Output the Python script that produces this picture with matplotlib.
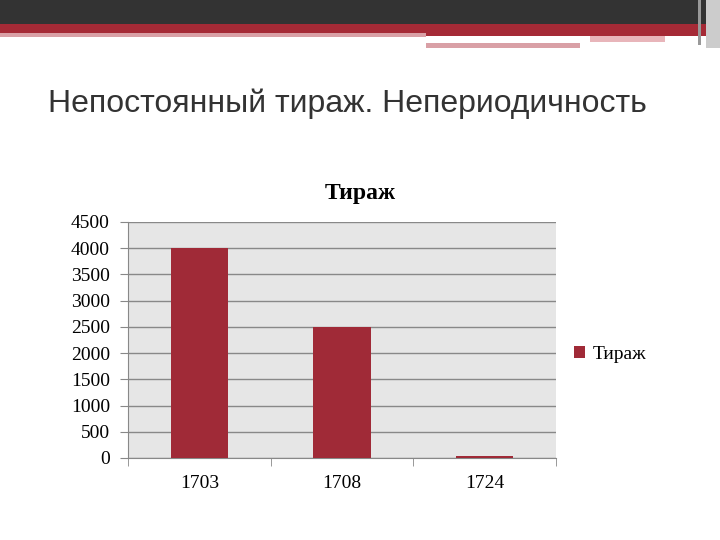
import matplotlib.pyplot as plt
from matplotlib.patches import Rectangle

# данные
years = ['1703', '1708', '1724']
tirazh = [4000, 2500, 30]
y_ticks = [0, 500, 1000, 1500, 2000, 2500, 3000, 3500, 4000, 4500]

W, H = 720, 540
bar_color = '#a02a37'

fig = plt.figure(figsize=(7.2, 5.4), dpi=100)
fig.patch.set_facecolor('white')

def px_rect(x, y, w, h, color):
    # прямоугольник в пикселях (y от верхнего края)
    fig.patches.append(Rectangle((x / W, 1 - (y + h) / H), w / W, h / H,
                                 transform=fig.transFigure, color=color, lw=0))

# декоративная полоса сверху
px_rect(0, 0, 720, 24, '#333333')
px_rect(0, 24, 720, 9, '#a52a36')
px_rect(0, 33, 426, 4, '#d9a0a6')
px_rect(426, 33, 280, 3, '#a52a36')
px_rect(426, 43, 154, 5, '#d9a0a6')
px_rect(590, 36, 75, 6, '#e8b5ba')
px_rect(698, 0, 3, 45, '#999999')
px_rect(706, 0, 14, 48, '#cccccc')

# заголовок слайда
fig.text(48 / W, 1 - 112 / H, 'Непостоянный тираж. Непериодичность',
         fontsize=23, color='#333333', family='Liberation Sans', va='baseline')

ax = fig.add_axes([128 / W, (H - 458) / H, 428 / W, 236 / H])
ax.set_facecolor('#e6e6e6')
x = range(len(years))
ax.bar(x, tirazh, width=0.4, color=bar_color, label='Тираж', zorder=3)
ax.set_xlim(-0.5, 2.5)
ax.set_ylim(0, 4500)
ax.set_yticks(y_ticks)
ax.set_xticks(list(x))
ax.set_xticklabels(years)
ax.set_xticks([-0.5, 0.5, 1.5, 2.5], minor=True)
ax.tick_params(axis='x', which='major', length=0, pad=12)
ax.tick_params(axis='x', which='minor', length=6, color='#888888')
ax.tick_params(axis='y', length=6, color='#888888', pad=7)
ax.grid(axis='y', color='#888888', lw=1, zorder=1)
for s in ['top', 'right']:
    ax.spines[s].set_visible(False)
for s in ['left', 'bottom']:
    ax.spines[s].set_color('#888888')
for lab in ax.get_xticklabels() + ax.get_yticklabels():
    lab.set_family('Liberation Serif')
    lab.set_fontsize(14)

# заголовок диаграммы по центру всей области (вместе с легендой)
fig.text(360 / W, 1 - 193 / H, 'Тираж', fontsize=17, fontweight='bold',
         family='Liberation Serif', ha='center', va='center')

leg = ax.legend(loc='center left', bbox_to_anchor=(1.0, 0.44), frameon=False,
                handlelength=0.6, handleheight=0.6, handletextpad=0.4,
                prop={'family': 'Liberation Serif', 'size': 14})

fig.savefig('out.png', dpi=100)
